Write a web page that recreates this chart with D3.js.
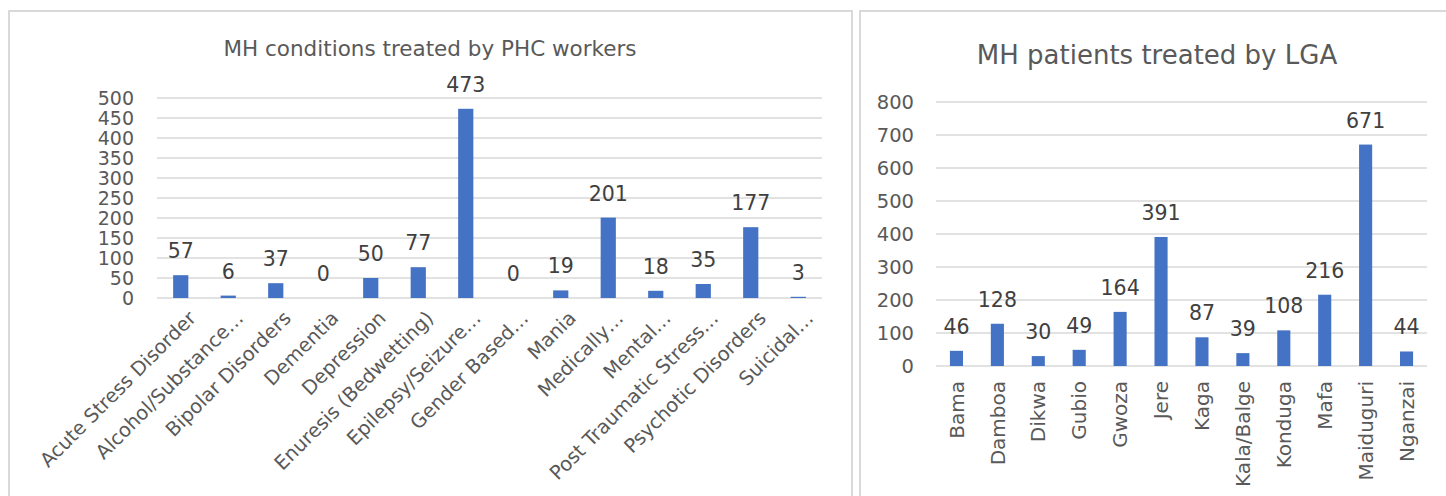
<!DOCTYPE html>
<html><head><meta charset="utf-8">
<script src="https://cdn.jsdelivr.net/npm/d3@7"></script>
<style>
html,body{margin:0;padding:0;background:#fff;}
svg{display:block;}
text{font-family:"DejaVu Sans",sans-serif;}
</style></head>
<body>
<svg id="c" width="1446" height="496"></svg>
<script>
// Left chart data
const conditionCategories = ["Acute Stress Disorder","Alcohol/Substance…","Bipolar Disorders","Dementia","Depression","Enuresis (Bedwetting)","Epilepsy/Seizure…","Gender Based…","Mania","Medically…","Mental…","Post Traumatic Stress…","Psychotic Disorders","Suicidal…"];
const conditionValues = [57,6,37,0,50,77,473,0,19,201,18,35,177,3];
const conditionTicks = [0,50,100,150,200,250,300,350,400,450,500];
const conditionTitle = "MH conditions treated by PHC workers";

// Right chart data
const lgaCategories = ["Bama","Damboa","Dikwa","Gubio","Gwoza","Jere","Kaga","Kala/Balge","Konduga","Mafa","Maiduguri","Nganzai"];
const lgaValues = [46,128,30,49,164,391,87,39,108,216,671,44];
const lgaTicks = [0,100,200,300,400,500,600,700,800];
const lgaTitle = "MH patients treated by LGA";

const svg = d3.select("#c");
const BAR = "#4472C4", GRID = "#d9d9d9", TXT = "#595959", LBL = "#404040";

// panel borders
svg.append("path").attr("d","M9,496 V11 H852 V496").attr("fill","none").attr("stroke",GRID).attr("stroke-width",2);
svg.append("path").attr("d","M860,496 V11 H1446").attr("fill","none").attr("stroke",GRID).attr("stroke-width",2);

function drawChart(o){
  const y = d3.scaleLinear().domain([0, d3.max(o.ticks)]).range([o.y0, o.y1]);
  const x = d3.scaleBand().domain(o.cats).range([o.x0, o.x1]).padding(0);
  const g = svg.append("g");
  g.selectAll(".grid").data(o.ticks).join("line")
    .attr("x1", o.x0).attr("x2", o.x1)
    .attr("y1", d => y(d)).attr("y2", d => y(d))
    .attr("stroke", GRID).attr("stroke-width", 1.5);
  g.selectAll(".yl").data(o.ticks).join("text")
    .attr("x", o.yLabelX).attr("y", d => y(d)).attr("dy","0.36em")
    .attr("text-anchor","end").attr("fill",TXT).attr("font-size",o.tickSize)
    .text(d => d);
  const bw = x.step()*o.barFrac;
  g.selectAll(".bar").data(o.vals).join("rect")
    .attr("x",(d,i)=> x(o.cats[i]) + x.bandwidth()/2 - bw/2)
    .attr("width", bw)
    .attr("y", d => y(d))
    .attr("height", d => y(0)-y(d))
    .attr("fill", BAR);
  g.selectAll(".vl").data(o.vals).join("text")
    .attr("x",(d,i)=> x(o.cats[i]) + x.bandwidth()/2)
    .attr("y", d => y(d) - o.labelGap)
    .attr("text-anchor","middle").attr("fill",LBL).attr("font-size",o.valSize)
    .text(d => d);
  g.selectAll(".xl").data(o.cats).join("text")
    .attr("transform", d => `translate(${x(d)+x.bandwidth()/2 + o.xlOff},${o.y0 + o.xlDown}) rotate(${o.rot})`)
    .attr("text-anchor","end").attr("dy", o.xlDy)
    .attr("fill",TXT).attr("font-size",o.xSize)
    .text(d => d);
  svg.append("text").attr("x",o.titleX).attr("y",o.titleY)
    .attr("text-anchor","middle").attr("fill",TXT).attr("font-size",o.titleSize)
    .text(o.title);
}

drawChart({cats:conditionCategories, vals:conditionValues, ticks:conditionTicks, title:conditionTitle,
  x0:157, x1:822, y0:298, y1:98, yLabelX:134, tickSize:19, valSize:20.5, xSize:19.5, titleSize:21.5,
  titleX:430, titleY:56, barFrac:0.32, labelGap:17, rot:-45, xlOff:6, xlDown:11, xlDy:"0.75em"});

drawChart({cats:lgaCategories, vals:lgaValues, ticks:lgaTicks, title:lgaTitle,
  x0:936, x1:1427, y0:366, y1:102, yLabelX:914, tickSize:19.5, valSize:20.5, xSize:20, titleSize:26,
  titleX:1157, titleY:64, barFrac:0.32, labelGap:17, rot:-90, xlOff:0, xlDown:15, xlDy:"0.36em"});
</script>
</body></html>
